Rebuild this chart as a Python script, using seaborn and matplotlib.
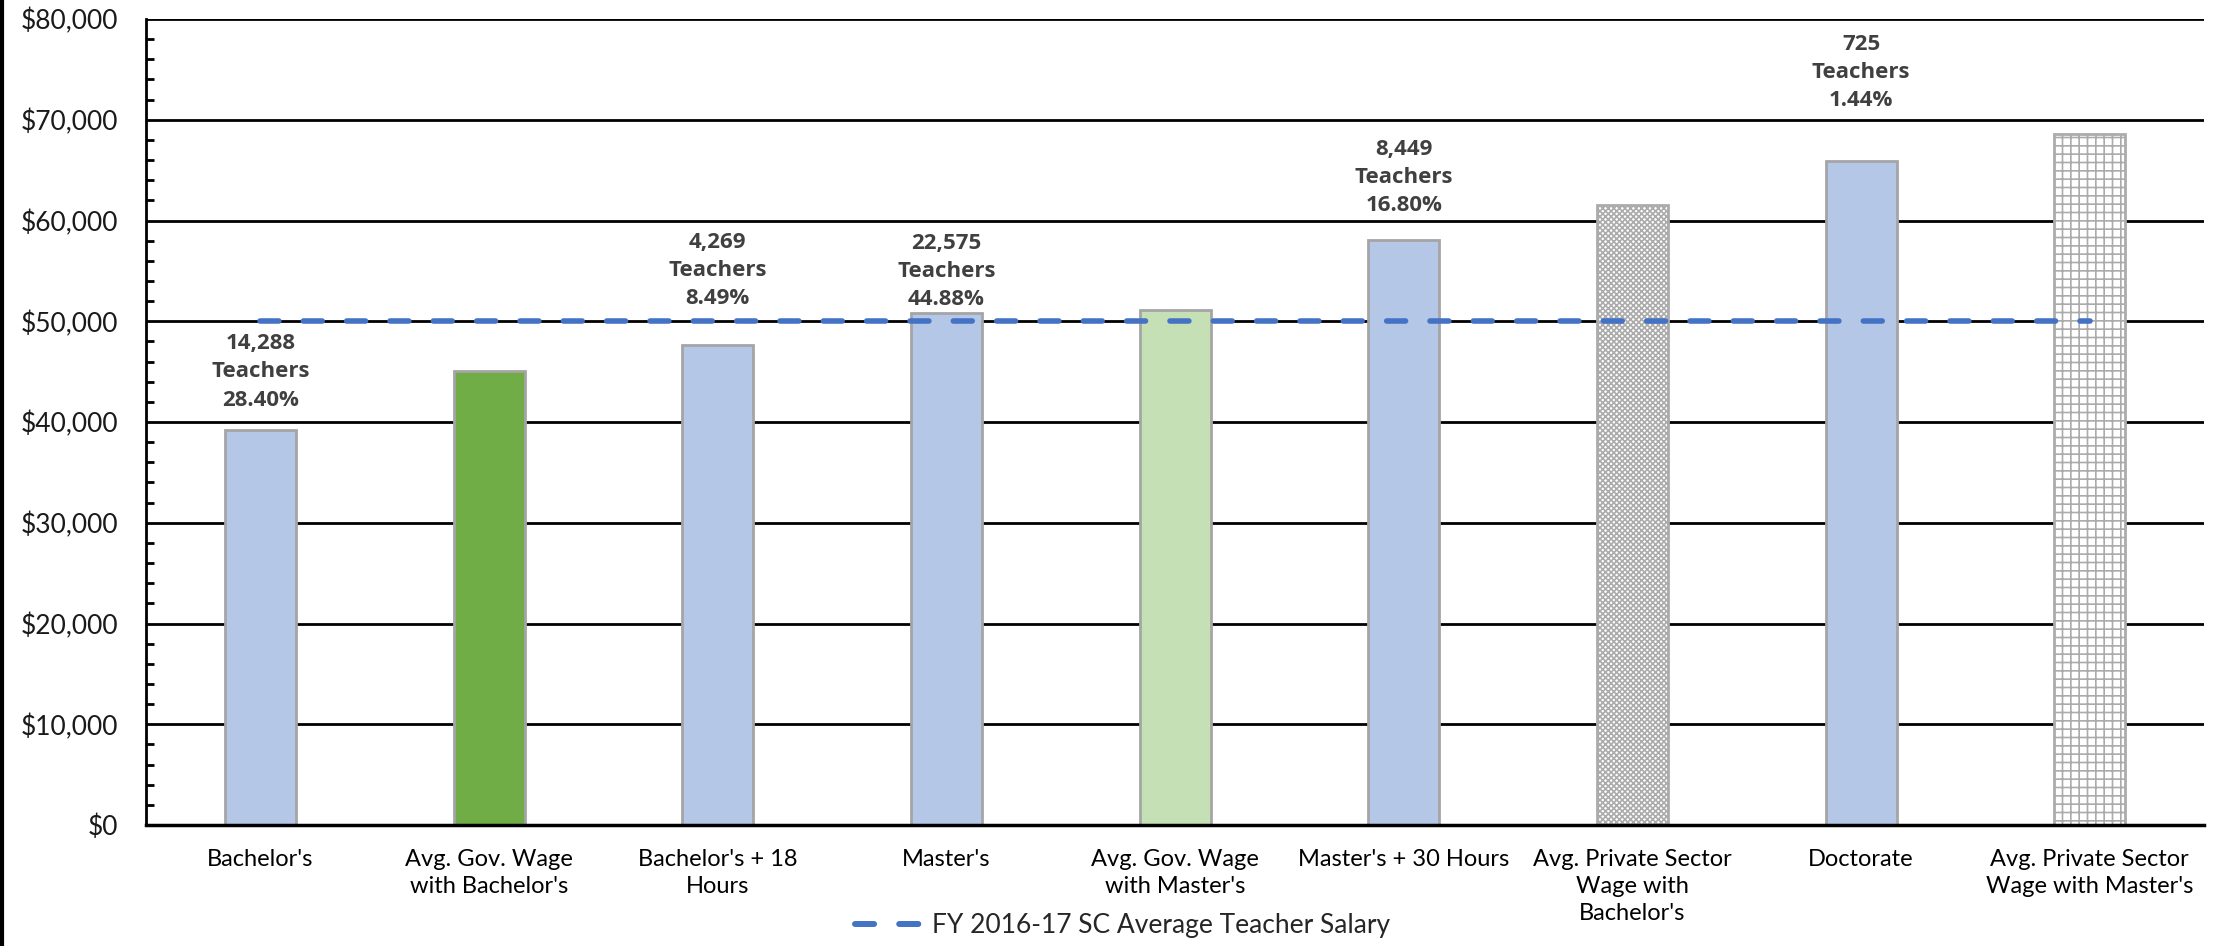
import matplotlib
matplotlib.use("Agg")
import matplotlib.pyplot as plt
import matplotlib.ticker as mticker
from matplotlib.lines import Line2D
import pandas as pd
import seaborn as sns

# ---- data ----
categories = [
    "Bachelor's",
    "Avg. Gov. Wage\nwith Bachelor's",
    "Bachelor's + 18\nHours",
    "Master's",
    "Avg. Gov. Wage\nwith Master's",
    "Master's + 30 Hours",
    "Avg. Private Sector\nWage with\nBachelor's",
    "Doctorate",
    "Avg. Private Sector\nWage with Master's",
]
salaries = [39200, 45100, 47600, 50800, 51100, 58100, 61500, 65900, 68600]
avg_salary = [50050] * len(categories)
avg_label = "FY 2016-17 SC Average Teacher Salary"

# teacher counts / shares (only for the teacher salary steps)
teacher_counts = ["14,288", None, "4,269", "22,575", None, "8,449", None, "725", None]
teacher_pcts = ["28.40%", None, "8.49%", "44.88%", None, "16.80%", None, "1.44%", None]

bar_colors = ["#B4C7E7", "#70AD47", "#B4C7E7", "#B4C7E7", "#C5E0B4",
              "#B4C7E7", "#FFFFFF", "#B4C7E7", "#FFFFFF"]
bar_hatches = [None, None, None, None, None, None, "xxxxxx", None, "++"]
# the labels were placed by hand in the original, so the gap varies (points)
label_gap = [14, 0, 26, 2, 0, 17, 0, 36, 0]

df = pd.DataFrame({"category": categories, "salary": salaries})

# ---- plotting ----
sns.set_theme(style="white")
plt.rcParams["font.family"] = ["Lato", "DejaVu Sans"]
plt.rcParams["hatch.linewidth"] = 1.2

fig = plt.figure(figsize=(22.27, 9.46), dpi=100)
ax = fig.add_axes([0.0656, 0.1279, 0.9241, 0.852])

sns.barplot(data=df, x="category", y="salary", hue="category",
            palette=bar_colors, width=0.31, legend=False, ax=ax,
            edgecolor="#A5A5A5", linewidth=2, saturation=1)

for patch, hatch in zip(ax.patches, bar_hatches):
    if hatch:
        patch.set_hatch(hatch)
        patch.set_edgecolor("#ABABAB")

sns.lineplot(x=categories, y=avg_salary, sort=False, ax=ax, color="#4472C4",
             linewidth=4, label=avg_label, legend=False)
line = ax.lines[-1]
line.set_linestyle((0, (3.4, 4.4)))
line.set_dash_capstyle("round")

# labels above teacher bars
for i, (cnt, pct) in enumerate(zip(teacher_counts, teacher_pcts)):
    if cnt is None:
        continue
    ax.annotate(f"{cnt}\nTeachers\n{pct}", xy=(i, salaries[i]),
                xytext=(0, label_gap[i]), textcoords="offset points",
                ha="center", va="bottom", fontsize=16, fontweight="bold",
                family=["Open Sans", "DejaVu Sans"],
                color="#404040", linespacing=1.45)

ax.set_ylim(0, 80000)
ax.set_xlim(-0.5, len(categories) - 0.5)
ax.yaxis.set_major_locator(mticker.MultipleLocator(10000))
ax.yaxis.set_minor_locator(mticker.MultipleLocator(2000))
ax.yaxis.set_major_formatter(mticker.StrMethodFormatter("${x:,.0f}"))
ax.grid(axis="y", which="major", color="black", linewidth=2)
ax.set_axisbelow(True)

for side in ["top", "right"]:
    ax.spines[side].set_visible(False)
ax.spines["left"].set_color("black")
ax.spines["left"].set_linewidth(2)
ax.spines["bottom"].set_color("black")
ax.spines["bottom"].set_linewidth(2.5)

ax.tick_params(axis="y", which="major", length=0, pad=20, labelsize=19,
               labelcolor="#1a1a1a")
ax.tick_params(axis="y", which="minor", direction="in", length=6, width=2,
               color="black", left=True)
ax.tick_params(axis="x", length=0, pad=17, labelsize=17, labelcolor="black")
for lbl in ax.get_xticklabels():
    lbl.set_family(["Liberation Sans Narrow", "Lato", "DejaVu Sans"])
    lbl.set_linespacing(1.35)
ax.set_xlabel("")
ax.set_ylabel("")

handle = Line2D([], [], color="#4472C4", linewidth=4.3,
                linestyle=(0, (3.2, 4.2)), dash_capstyle="round")
fig.legend([handle], [avg_label], loc="lower center",
           bbox_to_anchor=(0.504, -0.017), frameon=False, fontsize=19,
           handlelength=2.65, handletextpad=0.25)

# thin frame line on the left edge of the picture
fig.add_artist(Line2D([0.001, 0.001], [0, 1], color="black", linewidth=3,
                      transform=fig.transFigure))

fig.savefig("out.png", dpi=100)
